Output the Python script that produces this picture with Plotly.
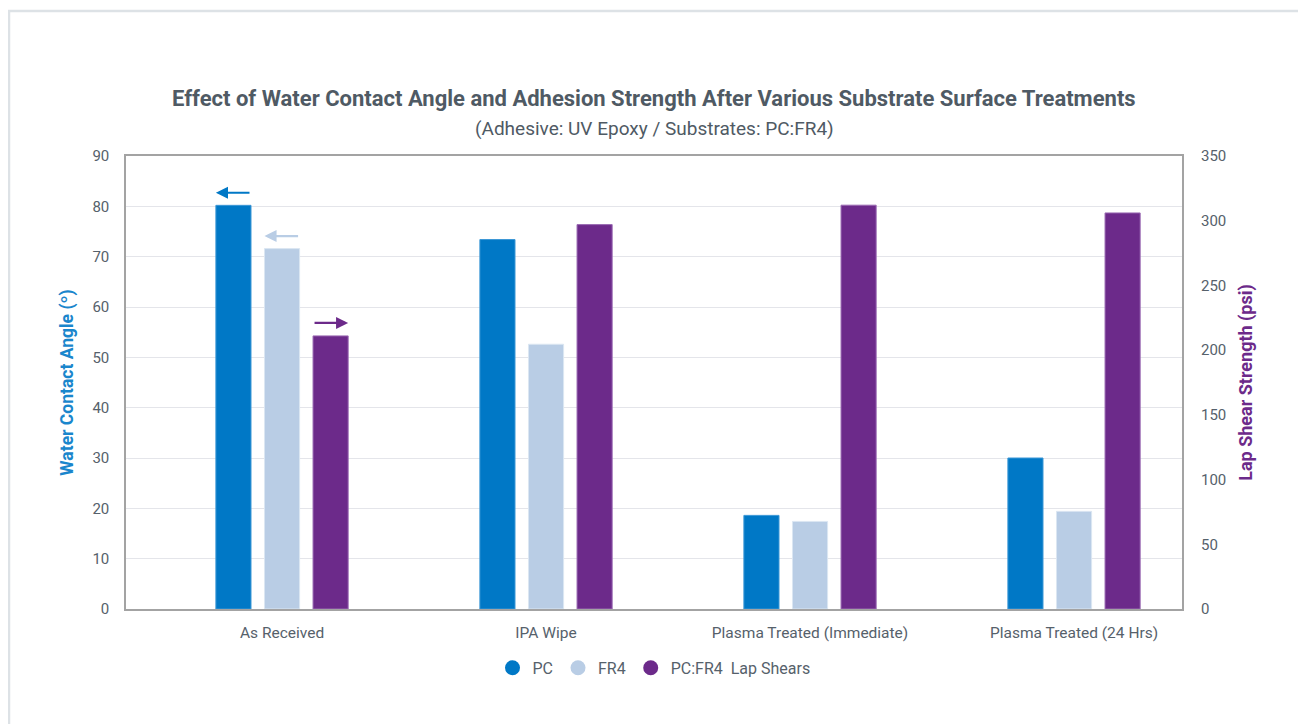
import plotly.graph_objects as go

categories = ["As Received", "IPA Wipe", "Plasma Treated (Immediate)", "Plasma Treated (24 Hrs)"]
pc_angle = [80.2, 73.4, 18.6, 30.0]
fr4_angle = [71.6, 52.6, 17.4, 19.4]
lap_shear = [211, 297, 312, 306]

left_ticks = [0, 10, 20, 30, 40, 50, 60, 70, 80, 90]
right_ticks = [0, 50, 100, 150, 200, 250, 300, 350]

c_pc = "#0078c6"
c_fr4 = "#b9cde5"
c_lap = "#6c2a8a"
grey_text = "#56616b"
font_family = "Roboto"

xs = list(range(len(categories)))
bw = 0.133
step = 0.184

fig = go.Figure()
fig.add_trace(go.Bar(x=xs, y=pc_angle, width=bw, offset=-step - bw / 2,
                     marker=dict(color=c_pc, line=dict(color="#3b97d6", width=1)),
                     showlegend=False, yaxis="y"))
fig.add_trace(go.Bar(x=xs, y=fr4_angle, width=bw, offset=-bw / 2,
                     marker=dict(color=c_fr4, line=dict(color="#dbe6f2", width=1)),
                     showlegend=False, yaxis="y"))
fig.add_trace(go.Bar(x=xs, y=lap_shear, width=bw, offset=step - bw / 2,
                     marker=dict(color=c_lap, line=dict(color="#9a6ab2", width=1)),
                     showlegend=False, yaxis="y2"))

# legend with round markers
for name, col in [("PC", c_pc), ("FR4", c_fr4), ("PC:FR4  Lap Shears", c_lap)]:
    fig.add_trace(go.Scatter(x=[None], y=[None], mode="markers", name=name,
                             marker=dict(symbol="circle", size=15, color=col)))

# direction arrows over the first group
arrows = [
    (-step - bw / 2, pc_angle[0] + 2.5, c_pc, "y", "left"),
    (-bw / 2, fr4_angle[0] + 2.5, c_fr4, "y", "left"),
    (step - bw / 2, lap_shear[0] + 10, c_lap, "y2", "right"),
]
for x0, yv, col, yr, d in arrows:
    x1 = x0 + bw
    head, tail = (x0, x1) if d == "left" else (x1, x0)
    fig.add_annotation(x=head, y=yv, ax=tail, ay=yv, xref="x", yref=yr,
                       axref="x", ayref=yr, text="", showarrow=True,
                       arrowhead=2, arrowsize=1.1, arrowwidth=2.2, arrowcolor=col)

fig.add_annotation(text="<b>Effect of Water Contact Angle and Adhesion Strength After Various Substrate Surface Treatments</b>",
                   x=0.5, y=1.128, xref="paper", yref="paper", yanchor="middle", showarrow=False,
                   font=dict(family=font_family, size=22, color="#4f5a64"))
fig.add_annotation(text="(Adhesive: UV Epoxy / Substrates: PC:FR4)",
                   x=0.5, y=1.06, xref="paper", yref="paper", yanchor="middle", showarrow=False,
                   font=dict(family=font_family, size=19, color="#4f5a64"))

# outer frame
fig.add_shape(type="rect", xref="paper", yref="paper", x0=-0.1108, x1=1.1117, y0=-0.3, y1=1.32,
              line=dict(color="#dde2e6", width=2.5), layer="below")

fig.update_layout(
    width=1306, height=724,
    margin=dict(l=118, r=132, t=148, b=123),
    paper_bgcolor="white", plot_bgcolor="white",
    font=dict(family=font_family, size=15, color=grey_text),
    barmode="overlay",
    xaxis=dict(range=[-0.591, 3.409], tickvals=xs, ticktext=categories,
               showline=True, linecolor="#a3a3a3", linewidth=2, mirror=True,
               showgrid=False, zeroline=False, ticks="", ticklabelstandoff=8,
               tickfont=dict(size=15.5, color=grey_text)),
    yaxis=dict(range=[0, 90], tickvals=left_ticks, showline=True, linecolor="#a3a3a3",
               linewidth=1.5, mirror=True, showgrid=True, gridcolor="#e4e5ea", gridwidth=1.2,
               zeroline=False, ticks="", ticklabelstandoff=12,
               title=dict(text="<b>Water Contact Angle (º)</b>", standoff=14,
                          font=dict(size=17.5, color="#1a86cc"))),
    yaxis2=dict(range=[0, 350], tickvals=right_ticks, overlaying="y", side="right",
                showgrid=False, zeroline=False, showline=False, ticks="", ticklabelstandoff=18,
                title=dict(text="<b>Lap Shear Strength (psi)</b>", standoff=14,
                           font=dict(size=18, color="#6c2a8a"))),
    legend=dict(orientation="h", x=0.5, xanchor="center", y=-0.13, yanchor="middle",
                font=dict(size=16, color=grey_text), itemwidth=30, bgcolor="rgba(0,0,0,0)"),
)

fig.write_html("out.html")
